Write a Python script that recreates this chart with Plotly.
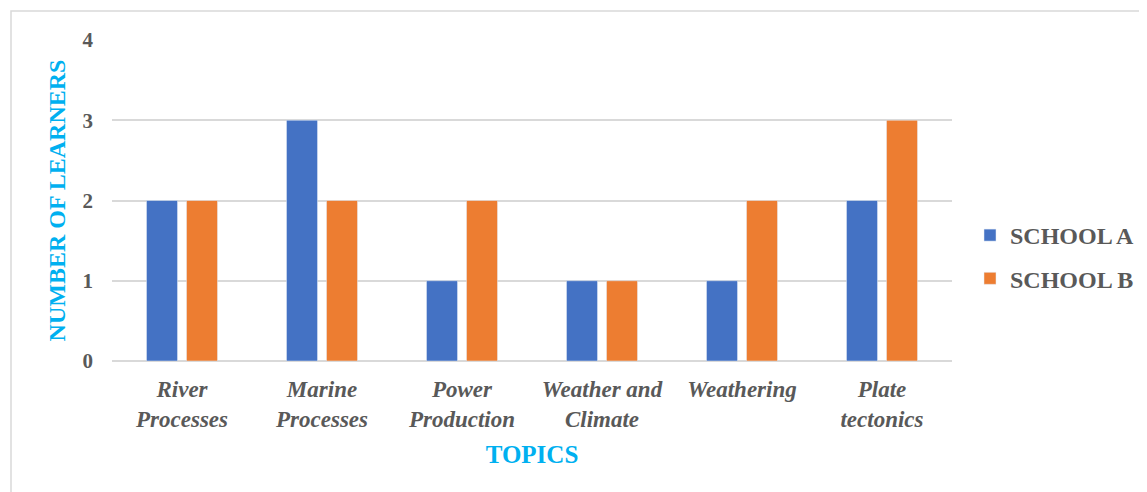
import plotly.graph_objects as go

categories = ["<i>River</i><br><i>Processes</i>", "<i>Marine</i><br><i>Processes</i>",
              "<i>Power</i><br><i>Production</i>", "<i>Weather and</i><br><i>Climate</i>",
              "<i>Weathering</i>", "<i>Plate</i><br><i>tectonics</i>"]
school_a = [2, 3, 1, 1, 1, 2]
school_b = [2, 2, 2, 1, 2, 3]
y_ticks = [0, 1, 2, 3, 4]

FONT = "Liberation Serif, Times New Roman, serif"
GRAY = "#595959"
BLUE_T = "#00B0F0"

fig = go.Figure()
fig.add_trace(go.Bar(x=categories, y=school_a, name="<b>SCHOOL A</b>", marker_color="#4472C4",
                     legendgroup="a"))
fig.add_trace(go.Bar(x=categories, y=school_b, name="<b>SCHOOL B</b>", marker_color="#ED7D31",
                     legendgroup="b"))

OFF = 8  # page body margin
W, H = 1147 - OFF, 492 - OFF
L, R, T, B = 112 - OFF, 952 - OFF, 40 - OFF, 361 - OFF
pw, ph = R - L, B - T

def px(x):
    return (x - OFF - L) / pw

def py(y):
    return (B - (y - OFF)) / ph

fig.update_layout(
    width=W, height=H,
    margin=dict(l=L, r=W - R, t=T, b=H - B, pad=0, autoexpand=False),
    paper_bgcolor="white", plot_bgcolor="white",
    barmode="group", bargap=0.4286, bargroupgap=0.225,
    font=dict(family=FONT, color=GRAY, size=20),
    showlegend=True,
    legend=dict(x=px(970), y=py(257), xanchor="left", yanchor="middle",
                font=dict(family=FONT, size=24, color=GRAY),
                tracegroupgap=9, itemwidth=30, traceorder="grouped"),
    xaxis=dict(
        automargin=False,
        tickfont=dict(family=FONT, size=23, color=GRAY, weight="bold"),
        showgrid=False, showline=False, ticks="", ticklabelstandoff=12,
        title=dict(text="<b>TOPICS</b>", font=dict(family=FONT, size=25, color=BLUE_T), standoff=14),
        tickangle=0,
    ),
    yaxis=dict(
        automargin=False,
        range=[0, 4], tickvals=y_ticks,
        tickfont=dict(family=FONT, size=21, color=GRAY, weight="bold"),
        showgrid=True, gridcolor="#D9D9D9", gridwidth=1.5,
        zeroline=True, zerolinecolor="#D9D9D9", zerolinewidth=1.5,
        showline=False, ticks="", ticklabelstandoff=18,
        title=dict(text="<b>NUMBER OF LEARNERS</b>", font=dict(family=FONT, size=24, color=BLUE_T), standoff=10),
    ),
    shapes=[dict(type="rect", xref="paper", yref="paper",
                 x0=px(11), x1=px(1170), y0=py(510), y1=py(11),
                 line=dict(color="#D9D9D9", width=1.5), fillcolor="rgba(0,0,0,0)", layer="below")],
)

fig.write_html("out.html")
